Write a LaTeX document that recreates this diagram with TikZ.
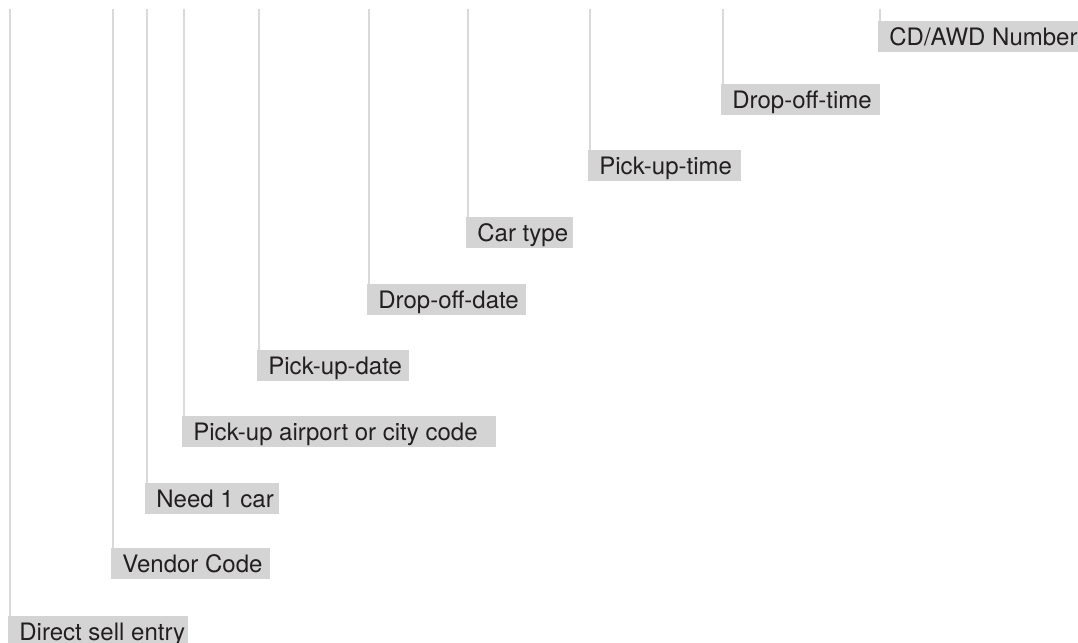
\documentclass[tikz,border=0pt]{standalone}
\usepackage{fontspec}
\setmainfont{TeX Gyre Heros}
\usepackage{xcolor}
\definecolor{boxgray}{RGB}{212,212,213}
\definecolor{leadgray}{RGB}{217,217,217}
\definecolor{inkblack}{RGB}{35,31,32}

\begin{document}
\begin{tikzpicture}[
  x=0.5pt,y=-0.5pt,
  every node/.style={font=\fontsize{12}{14}\selectfont, text=inkblack},
  field/.style={fill=boxgray, anchor=north west, align=flush left, inner xsep=0pt, inner ysep=0pt,
    minimum height=15.5pt, text height=8.6pt, text depth=0pt,
    execute at begin node={\noindent\hspace*{5.5pt}}},
  lead/.style={draw=leadgray, line width=1.3pt}
]
\useasboundingbox (0,0) rectangle (1078,643);
\clip (0,0) rectangle (1078,643);

\node[field, text width=90pt]   (direct)  at (8,616)   {Direct~sell~entry};
\node[field, text width=79.5pt] (vendor)  at (111,548) {Vendor~Code};
\node[field, text width=67pt]   (needcar) at (145,483) {Need~1~car};
\node[field, text width=157pt]  (airport) at (182,416) {Pick-up airport or city code};
\node[field, text width=76pt]   (pudate)  at (257,350) {Pick-up-date};
\node[field, text width=79.5pt] (dodate)  at (367,284) {Drop-off-date};
\node[field, text width=53.5pt] (cartype) at (466,217) {Car~type};
\node[field, text width=76.5pt] (putime)  at (588,150) {Pick-up-time};
\node[field, text width=79.5pt] (dotime)  at (721,84)  {Drop-off-time};
\node[field, text width=104pt]  (cdawd)   at (878,21)  {CD/AWD~Number};

% lead lines from the top edge
\coordinate (directtop)  at (10,9);
\coordinate (vendortop)  at (113,9);
\coordinate (needcartop) at (147,9);
\coordinate (airporttop) at (184,9);
\coordinate (pudatetop)  at (259,9);
\coordinate (dodatetop)  at (369,9);
\coordinate (cartypetop) at (468,9);
\coordinate (putimetop)  at (590,9);
\coordinate (dotimetop)  at (723,9);
\coordinate (cdawdtop)   at (880,9);

\draw[lead] (directtop) -- (directtop |- direct.north);
\draw[lead] (vendortop) -- (vendortop |- vendor.north);
\draw[lead] (needcartop) -- (needcartop |- needcar.north);
\draw[lead] (airporttop) -- (airporttop |- airport.north);
\draw[lead] (pudatetop) -- (pudatetop |- pudate.north);
\draw[lead] (dodatetop) -- (dodatetop |- dodate.north);
\draw[lead] (cartypetop) -- (cartypetop |- cartype.north);
\draw[lead] (putimetop) -- (putimetop |- putime.north);
\draw[lead] (dotimetop) -- (dotimetop |- dotime.north);
\draw[lead] (cdawdtop) -- (cdawdtop |- cdawd.north);
\end{tikzpicture}
\end{document}
